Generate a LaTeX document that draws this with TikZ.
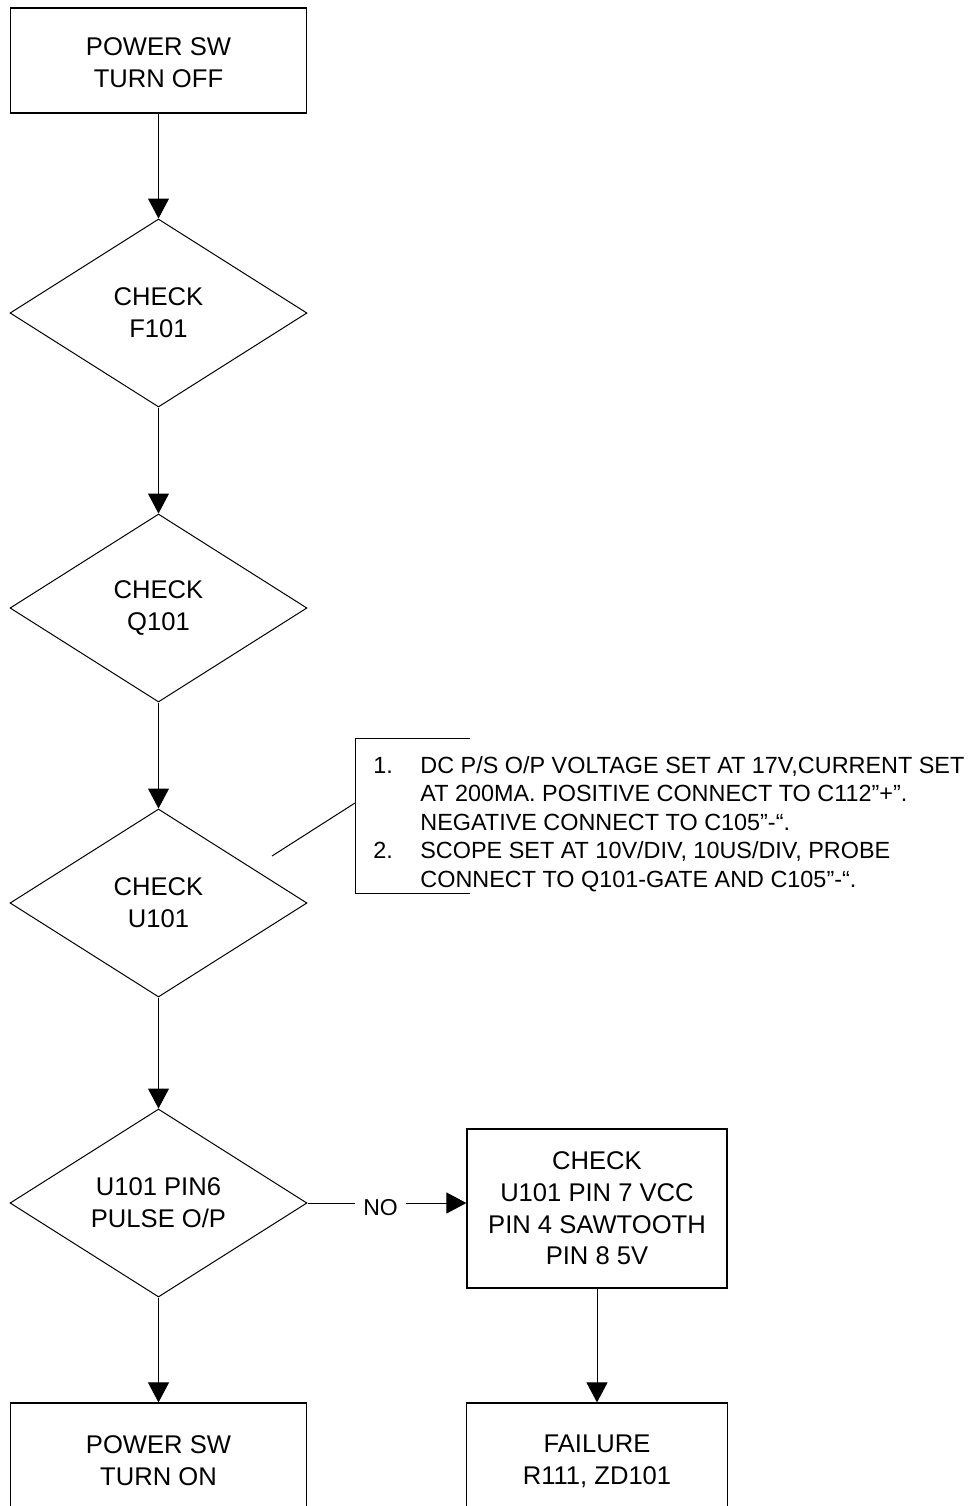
\documentclass[tikz,border=0pt]{standalone}
\usepackage{fontspec}
\setmainfont{Liberation Sans}
\usetikzlibrary{shapes.geometric,arrows.meta}
\newcommand\flowfont{\fontsize{12.8}{16}\selectfont}
\newcommand\chkfont{\fontsize{12.8}{15.8}\selectfont}
\newcommand\notefont{\fontsize{11.7}{14.25}\selectfont}
\newcommand\nofont{\fontsize{11.5}{13}\selectfont}
\begin{document}
\begin{tikzpicture}[x=0.5pt,y=-0.5pt,
  box/.style={draw,line width=0.6pt,minimum width=148pt,inner sep=0pt,align=center,font=\flowfont},
  dec/.style={draw,shape=diamond,aspect=1.58,minimum width=148.5pt,minimum height=94pt,inner sep=0pt,align=center,font=\flowfont,line width=0.5pt},
  flow/.style={-{Triangle[length=10pt,width=10.5pt]},line width=0.5pt},
  thin line/.style={line width=0.5pt}]
\useasboundingbox (0,0) rectangle (971,1506);
\clip (0,0) rectangle (971,1506);
% main column
\node[box,minimum height=52.5pt,text height=27.4pt,text depth=0pt] (off) at (158.5,60.5) {POWER SW\\TURN OFF};
\node[dec] (d1) at (158.5,313) {CHECK\\F101};
\node[dec] (d2) at (158.5,608) {CHECK\\Q101};
\node[dec] (d3) at (158.5,903) {CHECK\\U101};
\node[dec] (d4) at (158.5,1203) {U101 PIN6\\PULSE O/P};
\node[box,minimum height=57.5pt] (on) at (158.5,1460.5) {POWER SW\\TURN ON};
% right column
\node[box,minimum width=130pt,minimum height=79.5pt,font=\chkfont] (chk) at (597,1208.5) {CHECK\\U101 PIN 7 VCC\\PIN 4 SAWTOOTH\\PIN 8 5V};
\node[box,minimum width=130.5pt,minimum height=58.5pt] (fail) at (597,1461.5) {FAILURE\\R111, ZD101};
% connectors
\draw[flow] (off) -- (d1);
\draw[flow] (d1) -- (d2);
\draw[flow] (d2) -- (d3);
\draw[flow] (d3) -- (d4);
\draw[flow] (d4) -- (on);
\draw[flow] (d4.east) -- node[pos=0.46,fill=white,font=\nofont,inner xsep=4pt,inner ysep=1pt,yshift=-2.5pt]{NO} (d4.east -| chk.west);
\draw[flow] (chk.south) -- (chk.south |- fail.north);
% callout note
\coordinate (bt) at (470,738);
\coordinate (bb) at (470,893);
\coordinate (bmid) at (355,803);
\coordinate (lead) at (272,856);
\draw[thin line] (bt) -- (bt -| bmid) -- (bb -| bmid) -- (bb);
\draw[thin line] (lead) -- (bmid);
\node[anchor=base west,inner sep=0pt,font=\notefont] (note) at (373,773) {\begin{tabular}[t]{@{}l@{}l@{}}
\makebox[23.5pt][l]{1.}&DC P/S O/P VOLTAGE SET AT 17V,CURRENT SET\\
&AT 200MA. POSITIVE CONNECT TO C112”+”.\\
&NEGATIVE CONNECT TO C105”-“.\\
\makebox[23.5pt][l]{2.}&SCOPE SET AT 10V/DIV, 10US/DIV, PROBE\\
&CONNECT TO Q101-GATE AND C105”-“.
\end{tabular}};
\end{tikzpicture}
\end{document}
